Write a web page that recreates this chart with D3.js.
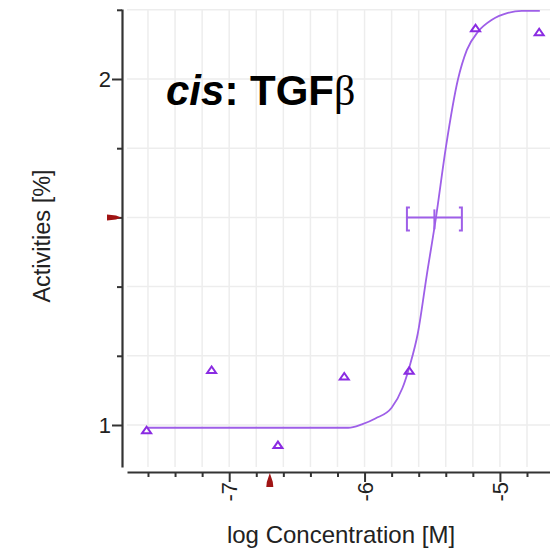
<!DOCTYPE html>
<html>
<head>
<meta charset="utf-8">
<script src="https://cdn.jsdelivr.net/npm/d3@7"></script>
<style>
  html, body { margin: 0; padding: 0; background: #fff; }
  svg { display: block; }
</style>
</head>
<body>
<svg id="chart" width="550" height="549"></svg>
<script>
// ---------- data ----------
const logConc    = [-7.61, -7.13, -6.64, -6.15, -5.67, -5.18, -4.71];
const activities = [0.985, 1.159, 0.942, 1.140, 1.157, 2.147, 2.135];

// fitted curve
const curveX = [-7.60, -6.12, -6.02, -5.92, -5.80, -5.72, -5.665, -5.606, -5.540, -5.473, -5.399, -5.311, -5.244, -5.163, -5.059, -4.941, -4.838, -4.705];
const curveY = [0.992, 0.992, 1.002, 1.019, 1.050, 1.107, 1.173, 1.266, 1.434, 1.598, 1.803, 1.997, 2.084, 2.136, 2.171, 2.191, 2.197, 2.197];

// EC50 horizontal error bar
const ec50 = { x: -5.484, lo: -5.687, hi: -5.281, y: 1.6 };
// red reference markers
const markerX = -6.70;
const markerY = 1.6;

// ticks
const xTickValues  = [-7.6, -7.4, -7.2, -7.0, -6.8, -6.6, -6.4, -6.2, -6.0, -5.8, -5.6, -5.4, -5.2, -5.0, -4.8];
const xTickLabels  = { "-7": "-7", "-6": "-6", "-5": "-5" };
const yTickValues  = [1.0, 1.2, 1.4, 1.6, 1.8, 2.0, 2.2];
const yTickLabels  = { "1": "1", "2": "2" };

const titleItalic = "cis";
const titleBold   = ": TGF";
const titleGreek  = "β";
const xTitle = "log Concentration [M]";
const yTitle = "Activities [%]";

// ---------- layout ----------
const svg = d3.select("#chart");
const x = d3.scaleLinear().domain([-7.755, -4.63]).range([127, 550]);
const y = d3.scaleLinear().domain([0.8786, 2.2023]).range([467, 9]);

const axisColor = "#333";
const gridColor = "#ededed";
const purple = "#8a2be2";
const curveColor = "#9e5fe8";
const red = "#a01414";

// grid
const grid = svg.append("g");
grid.selectAll("line.vg").data(xTickValues).join("line")
  .attr("x1", d => x(d)).attr("x2", d => x(d))
  .attr("y1", y.range()[1]).attr("y2", y.range()[0])
  .attr("stroke", gridColor).attr("stroke-width", 1.5);
grid.selectAll("line.hg").data(yTickValues).join("line")
  .attr("x1", x.range()[0]).attr("x2", x.range()[1])
  .attr("y1", d => y(d)).attr("y2", d => y(d))
  .attr("stroke", gridColor).attr("stroke-width", 1.5);

const isMajorX = d => Math.abs(d - Math.round(d)) < 1e-6;
const isMajorY = d => Math.abs(d - Math.round(d)) < 1e-6;

// x axis
const xAxis = d3.axisBottom(x).tickValues(xTickValues)
  .tickSize(5).tickSizeOuter(0)
  .tickFormat(d => xTickLabels[String(Math.round(d))] && isMajorX(d) ? xTickLabels[String(Math.round(d))] : "");
const gx = svg.append("g").attr("transform", "translate(0,472)").call(xAxis);
gx.select(".domain").attr("stroke", axisColor).attr("stroke-width", 2.2);
gx.selectAll(".tick line").attr("stroke", axisColor).attr("stroke-width", 2)
  .attr("y2", d => isMajorX(d) ? 10 : 5);
gx.selectAll(".tick text")
  .attr("font-family", "Liberation Sans, Arial, sans-serif")
  .attr("font-size", 22).attr("fill", "#222")
  .attr("text-anchor", "end")
  .attr("transform", "translate(0,10) rotate(-90)")
  .attr("x", 0).attr("y", 0).attr("dy", "0.35em");

// y axis
const yAxis = d3.axisLeft(y).tickValues(yTickValues)
  .tickSize(5).tickSizeOuter(0)
  .tickFormat(d => isMajorY(d) ? yTickLabels[String(Math.round(d))] : "");
const gy = svg.append("g").attr("transform", "translate(122,0)").call(yAxis);
gy.select(".domain").attr("stroke", axisColor).attr("stroke-width", 2.2);
gy.selectAll(".tick line").attr("stroke", axisColor).attr("stroke-width", 2)
  .attr("x2", d => isMajorY(d) ? -10 : -5);
gy.selectAll(".tick text")
  .attr("font-family", "Liberation Sans, Arial, sans-serif")
  .attr("font-size", 22).attr("fill", "#222")
  .attr("x", -11).attr("dy", "0.35em");

// red markers
svg.append("path")
  .attr("d", () => {
    const py = y(markerY), px = 122;
    return `M${px-15},${py-3} L${px-6},${py-2} L${px-1},${py} L${px-6},${py+2} L${px-15},${py+3} Z`;
  })
  .attr("fill", red);
svg.append("path")
  .attr("d", () => {
    const px = x(markerX), py = 472;
    return `M${px},${py+1} L${px+3},${py+10} L${px+3.5},${py+15} L${px-3.5},${py+15} L${px-3},${py+10} Z`;
  })
  .attr("fill", red);

// curve
const curvePts = curveX.map((d, i) => [d, curveY[i]]);
svg.append("path")
  .datum(curvePts)
  .attr("d", d3.line().x(d => x(d[0])).y(d => y(d[1])).curve(d3.curveMonotoneX))
  .attr("fill", "none").attr("stroke", curveColor).attr("stroke-width", 1.8);

// error bar
const eb = svg.append("g").attr("stroke", curveColor).attr("stroke-width", 2).attr("fill", "none");
const ey = y(ec50.y);
eb.append("line").attr("x1", x(ec50.lo)).attr("x2", x(ec50.hi)).attr("y1", ey).attr("y2", ey);
eb.append("path").attr("d", `M${x(ec50.lo)+3},${ey-10} H${x(ec50.lo)} V${ey+13} H${x(ec50.lo)+3}`);
eb.append("path").attr("d", `M${x(ec50.hi)-3},${ey-10} H${x(ec50.hi)} V${ey+13} H${x(ec50.hi)-3}`);
eb.append("line").attr("x1", x(ec50.x)).attr("x2", x(ec50.x)).attr("y1", ey-8).attr("y2", ey+12);

// points
const pts = logConc.map((d, i) => [d, activities[i]]);
svg.append("g").selectAll("path").data(pts).join("path")
  .attr("d", d => {
    const cx = x(d[0]), cy = y(d[1]);
    return `M${cx-4.5},${cy+3} L${cx},${cy-3.5} L${cx+4.5},${cy+3} Z`;
  })
  .attr("fill", "none").attr("stroke", purple).attr("stroke-width", 2);

// title
const t = svg.append("text").attr("x", 166).attr("y", 105)
  .attr("font-family", "Liberation Sans, Arial, sans-serif")
  .attr("font-size", 42).attr("font-weight", "bold").attr("fill", "#000");
t.append("tspan").attr("font-style", "italic").text(titleItalic);
t.append("tspan").text(titleBold);
t.append("tspan").attr("font-family", "Liberation Serif, Times New Roman, serif")
  .attr("font-weight", "normal").text(titleGreek);

// axis titles
svg.append("text").attr("x", 341).attr("y", 543).attr("text-anchor", "middle")
  .attr("font-family", "Liberation Sans, Arial, sans-serif").attr("font-size", 24)
  .attr("fill", "#222").text(xTitle);
svg.append("text").attr("transform", "translate(50,236) rotate(-90)").attr("text-anchor", "middle")
  .attr("font-family", "Liberation Sans, Arial, sans-serif").attr("font-size", 23.5)
  .attr("fill", "#222").text(yTitle);
</script>
</body>
</html>
